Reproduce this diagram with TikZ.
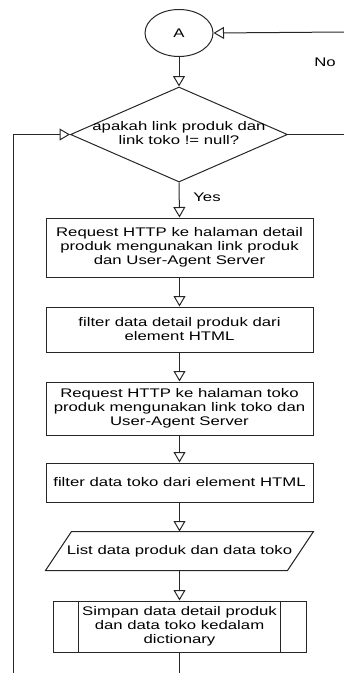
\documentclass[tikz,border=0pt]{standalone}
\usepackage{fontspec}
\setmainfont{Liberation Sans}[FakeStretch=1.34]
\usetikzlibrary{shapes.geometric,arrows.meta,positioning}

\begin{document}
\begin{tikzpicture}[x=1pt,y=-1pt,
		font=\fontsize{12.5}{14}\selectfont,
		line width=1pt, draw=black!85,
		proses/.style={draw, rectangle, minimum width=267pt, inner sep=0pt, align=center},
		panah/.style={-{Triangle[open,length=10.5pt,width=12pt]}}]
		\useasboundingbox (0,0) rectangle (344,673);
		
		\node[draw, ellipse, minimum width=68pt, minimum height=47pt, inner sep=0pt] (A) at (179,33) {A};
		\node[draw, diamond, minimum width=217pt, minimum height=95pt, inner sep=0pt] (cek) at (179,134.5) {};
		\node[align=center] (cektext) at (179,133) {apakah link produk dan\\link toko != null?};
		\node (tidak) at (325,62) {No};
		\node (ya) at (207,197) {Yes};
		
		\node[proses, minimum height=59pt] (req1) at (179.5,247.5)
			{Request HTTP ke halaman detail\\produk mengunakan link produk\\dan User-Agent Server};
		\node[proses, minimum height=45pt] (filter1) at (179.5,329.5)
			{filter data detail produk dari\\element HTML};
		\node[proses, minimum height=53pt] (req2) at (179.5,408.5)
			{Request HTTP ke halaman toko\\produk mengunakan link toko dan\\User-Agent Server};
		\node[proses, minimum height=39pt] (filter2) at (179.5,482.5)
			{filter data toko dari element HTML};
		
		% input/output
		\node[minimum width=267pt, minimum height=38pt, inner sep=0pt] (data) at (179.5,551)
			{List data produk dan data toko};
		\draw ([xshift=26pt]data.north west) -- (data.north east)
			-- ([xshift=-26pt]data.south east) -- (data.south west) -- cycle;
		
		% subproses
		\node[draw, minimum width=253pt, minimum height=51pt, inner sep=0pt, align=center] (simpan) at (179.5,626.5)
			{Simpan data detail produk\\dan data toko kedalam\\dictionary};
		\draw ([xshift=26pt]simpan.north west) -- ([xshift=26pt]simpan.south west);
		\draw ([xshift=-26pt]simpan.north east) -- ([xshift=-26pt]simpan.south east);
		
		\coordinate (kanan1) at (344,32);
		\coordinate (kanan2) at (344,134.5);
		\coordinate (kiri0) at (13,673);
		\coordinate (kiri1) at (13,134.5);
		\coordinate (bawah) at (179.5,673);
		
		\draw[panah] (kanan1) -- (A.east);
		\draw (cek.east) -- (kanan2);
		\draw[panah] (kiri0) -- (kiri1) -- (cek.west);
		
		\draw[panah] (A.south) -- (cek.north);
		\draw[panah] (cek.south) -- (req1.north);
		\draw[panah] (req1) -- (filter1);
		\draw[panah] (filter1) -- (req2);
		\draw[panah] (req2) -- (filter2);
		\draw[panah] (filter2) -- (data);
		\draw[panah] (data) -- (simpan);
		\draw (simpan) -- (bawah);
	\end{tikzpicture}
\end{document}
